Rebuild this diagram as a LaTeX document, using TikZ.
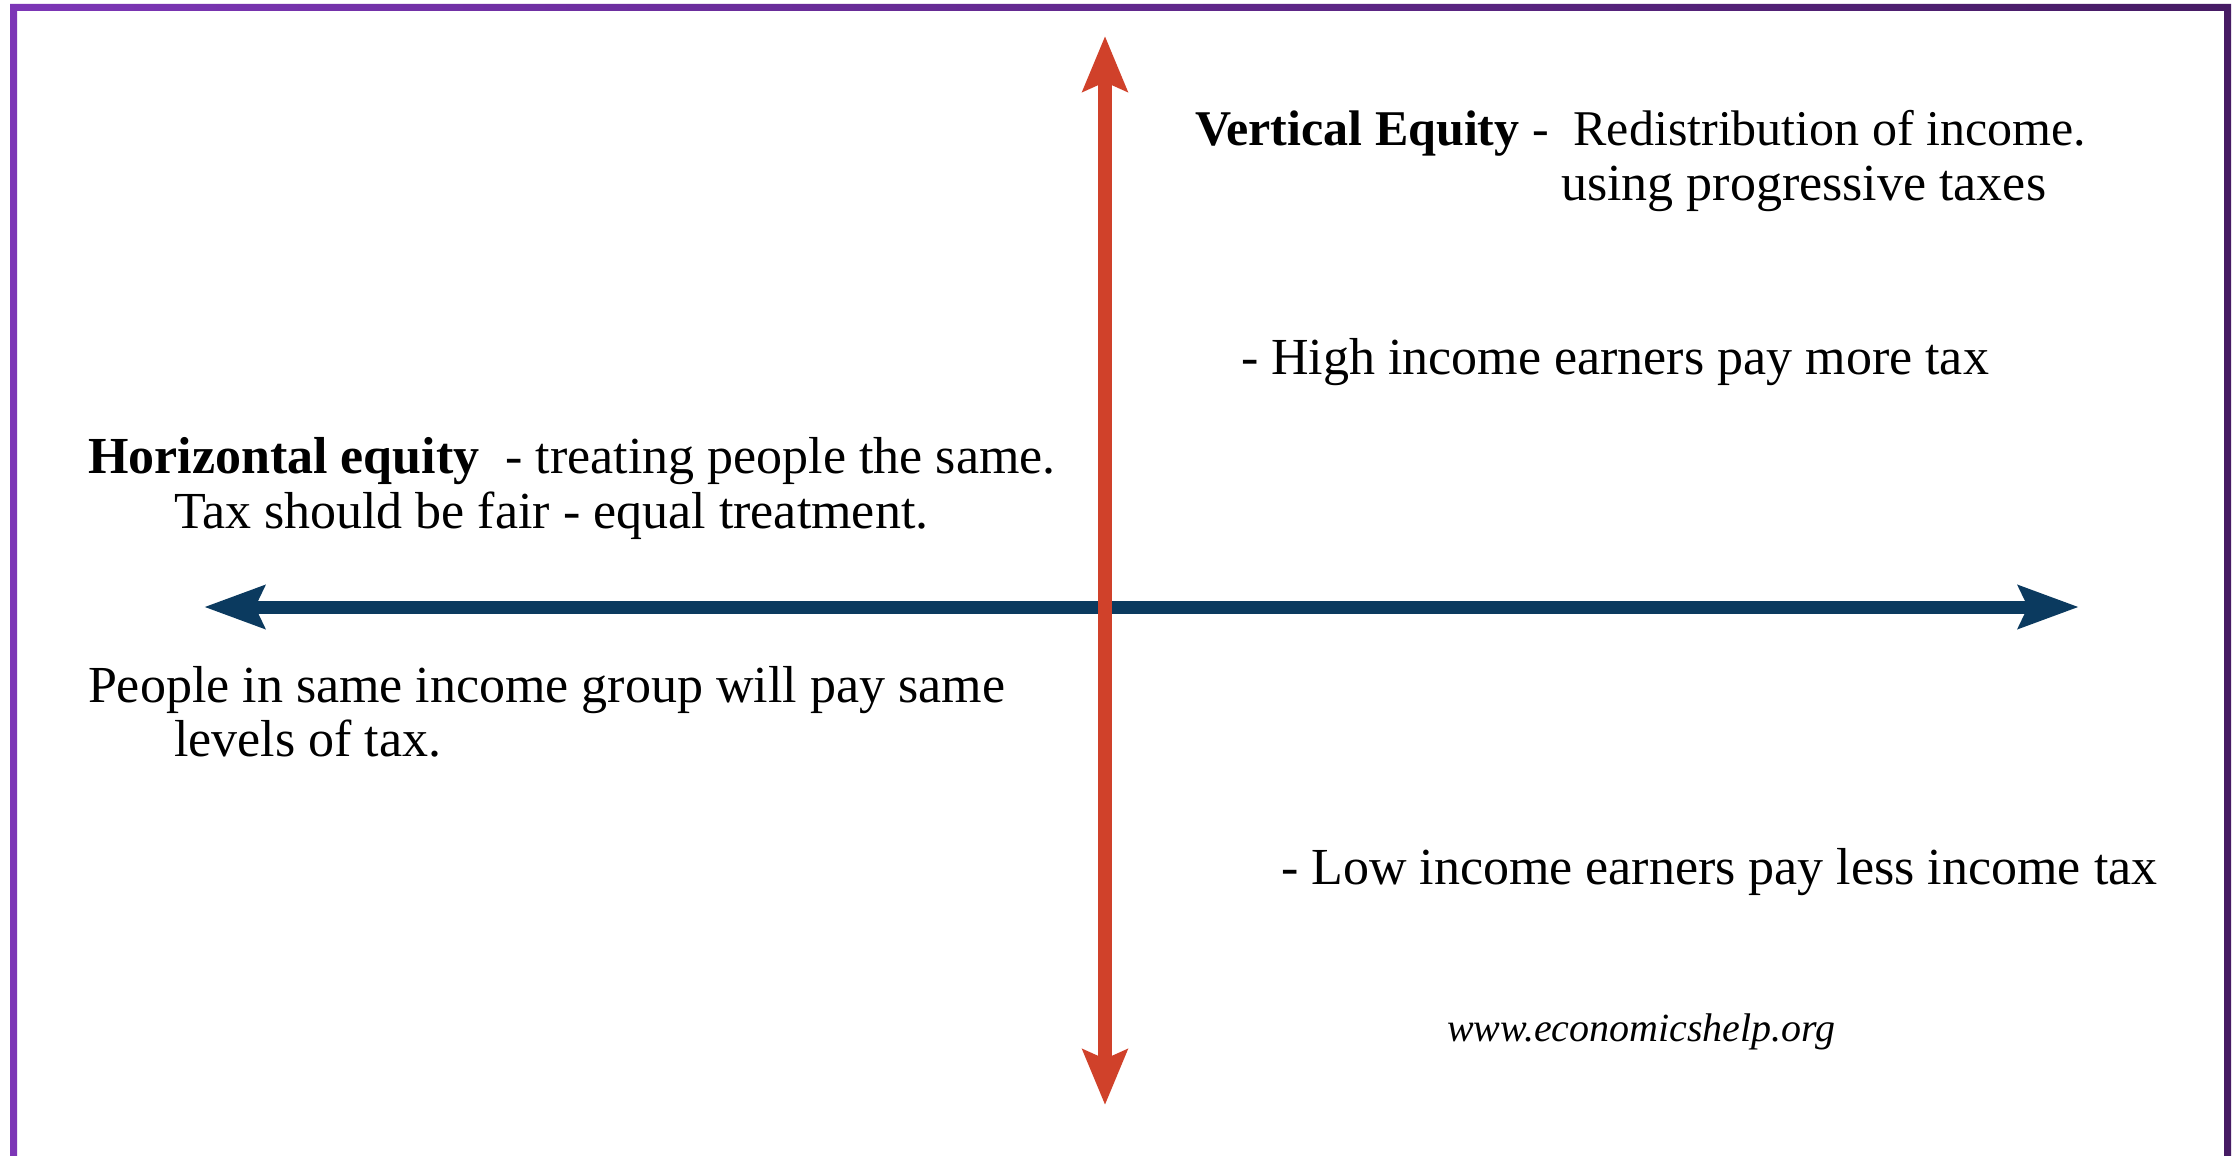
\documentclass[tikz,border=0pt]{standalone}
\usepackage{fontspec}
\setmainfont{Liberation Serif}
\usetikzlibrary{arrows.meta}
\definecolor{frameL}{HTML}{7C36B6}
\definecolor{frameR}{HTML}{461B64}
\definecolor{axisred}{HTML}{D0412A}
\definecolor{axisblue}{HTML}{0B3A5F}
\tikzset{
  txt/.style={anchor=base west, inner sep=0pt, outer sep=0pt, text=black,
    font=\fontsize{52}{62}\selectfont},
  txtnarrow/.style={txt, font=\fontsize{50}{60}\selectfont},
  web/.style={anchor=base west, inner sep=0pt, outer sep=0pt, text=black,
    font=\fontsize{40}{48}\selectfont\itshape},
  haxis/.style={draw=axisblue, line width=13pt,
    {Stealth[length=60pt,width=42pt,inset=9pt]}-{Stealth[length=60pt,width=42pt,inset=9pt]}},
  vaxis/.style={draw=axisred, line width=14pt,
    {Stealth[length=55pt,width=44pt,inset=9pt]}-{Stealth[length=55pt,width=44pt,inset=9pt]}}
}
\begin{document}
\begin{tikzpicture}[x=1pt,y=-1pt]
\useasboundingbox (0,0) rectangle (2236,1156);
\fill[white] (0,0) rectangle (2236,1156);
% frame (open at the bottom)
\shade[left color=frameL, right color=frameR]
  (10,1156) -- (10,4) -- (2231,4) -- (2231,1156) -- (2224,1156) -- (2224,11) -- (17,11) -- (17,1156) -- cycle;
% axis end points
\coordinate (hleft) at (204,607);
\coordinate (hright) at (2079,607);
\coordinate (vtop) at (1105,36);
\coordinate (vbottom) at (1105,1105);
\draw[haxis] (hleft) -- (hright);
\draw[vaxis] (vtop) -- (vbottom);
% texts
\node[txtnarrow] (vert1) at (1195,145) {\textbf{Vertical Equity} - \ Redistribution of income.};
\node[txt] (vert2) at (1561,200) {using progressive taxes};
\node[txt] (high) at (1241,374) {- High income earners pay more tax};
\node[txt] (hor1) at (88,473) {\textbf{Horizontal equity} \ - treating people the same.};
\node[txt] (hor2) at (174,528) {Tax should be fair - equal treatment.};
\node[txt] (same1) at (88,702) {People in same income group will pay same};
\node[txt] (same2) at (174,756) {levels of tax.};
\node[txt] (low) at (1281,884) {- Low income earners pay less income tax};
\node[web] (site) at (1447,1041) {www.economicshelp.org};
\end{tikzpicture}
\end{document}
